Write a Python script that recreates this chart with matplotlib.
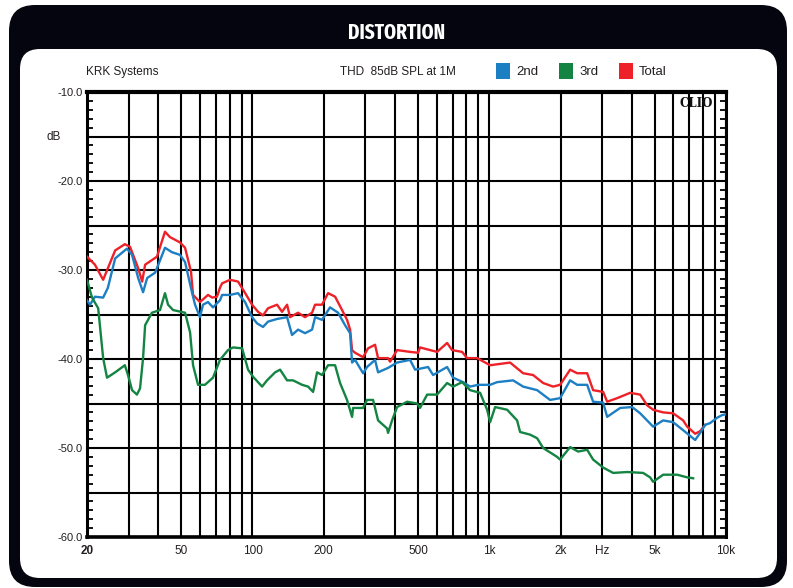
import numpy as np
import matplotlib
matplotlib.use("Agg")
import matplotlib.pyplot as plt
from matplotlib.patches import FancyBboxPatch, Rectangle
from matplotlib.ticker import FixedLocator, MultipleLocator, FuncFormatter
from matplotlib import font_manager

# --- data (Hz, dB) ---
freq_total = [20, 21.6, 23.4, 26.3, 28.9, 30.4, 32.9, 34.2, 35.2, 39.5, 42.7, 44.8, 49.4, 51.9,
              55.0, 56.1, 60.0, 64.9, 67.5, 70.8, 72.9, 74.4, 80.4, 86.9, 91.2, 99.6, 105.6,
              110.8, 116.3, 127, 133.3, 140, 144.1, 155.8, 166.7, 178.5, 183.8, 196.7, 208.6,
              223.3, 239.0, 250.8, 258.4, 263.4, 271.2, 293.2, 307.8, 329.4, 339.2, 373.8, 381.1,
              408, 463, 500.5, 510.3, 562.6, 602.2, 663.8, 696.7, 768, 806.3, 888.8, 1008.6,
              1225, 1390, 1532, 1689, 1861, 1992, 2196, 2351, 2592, 2746, 3028, 3148, 3469,
              3937, 4339, 4644, 4922, 5426, 5980, 6592, 6854, 7410, 7778, 8166]
db_total = [-28.5, -29.4, -31.1, -27.8, -27.1, -27.4, -29.8, -31.3, -29.4, -28.5, -25.7, -26.3, -26.9, -27.5,
            -30.2, -32.8, -33.6, -32.8, -33.1, -33.0, -32.0, -31.5, -31.1, -31.3, -32.2, -33.9, -34.7,
            -35.1, -34.3, -33.9, -34.7, -33.9, -35.3, -34.8, -35.3, -34.8, -33.9, -33.9, -32.6,
            -33.0, -34.5, -35.6, -36.7, -39.0, -39.3, -39.8, -38.8, -38.4, -39.9, -39.9, -40.3,
            -39.0, -39.2, -39.3, -38.7, -39.0, -39.2, -38.2, -39.0, -39.2, -39.9, -39.9, -40.7,
            -40.4, -41.6, -41.8, -42.7, -43.1, -42.9, -41.2, -41.6, -41.6, -43.5, -43.7, -44.8, -44.4,
            -43.8, -44.0, -45.2, -45.7, -46.0, -46.1, -46.9, -47.6, -48.4, -48.1, -47.4]

freq_2nd = [20, 20.6, 21.6, 23.4, 24.5, 26.3, 29.5, 31.0, 32.9, 34.5, 35.9, 38.8, 42.7, 45.7,
            49.4, 51.9, 55.5, 57.2, 60.0, 61.8, 64.9, 68.1, 72.9, 74.4, 80.4, 86.9, 93.0, 99.6,
            104.6, 110.8, 116.3, 127, 140, 146.9, 155.8, 166.7, 178.5, 183.8, 196.7, 212.6,
            229.9, 246, 258.4, 263.4, 271.2, 293.2, 304.7, 329.4, 339.2, 373.8, 408, 463, 486.2,
            551.6, 579.3, 663.8, 703.6, 775.4, 830.2, 897.5, 1008.6, 1079.8, 1261, 1390, 1593,
            1807, 1992, 2196, 2351, 2592, 2746, 3028, 3148, 3572, 4013, 4339, 4922, 5426, 5980,
            6592, 7410, 7778, 8166, 8571, 9176, 9632, 10000]
db_2nd = [-33.4, -33.9, -33.0, -33.1, -32.0, -28.7, -27.6, -28.3, -30.9, -32.5, -30.9, -30.3, -27.5, -28.0,
          -28.3, -29.1, -32.5, -33.9, -35.3, -33.9, -33.6, -34.2, -33.4, -32.8, -32.8, -32.6, -33.6, -35.3,
          -36.0, -36.4, -35.8, -35.5, -35.3, -37.3, -36.7, -37.1, -36.7, -35.3, -35.6, -34.2,
          -34.8, -36.2, -37.1, -40.4, -40.1, -41.6, -40.9, -40.1, -41.5, -41.0, -40.4, -40.1, -41.2,
          -40.9, -41.8, -40.9, -42.1, -42.6, -43.1, -42.9, -42.9, -42.6, -42.4, -43.1, -43.5,
          -44.6, -44.4, -42.4, -42.9, -42.9, -44.8, -44.9, -46.5, -45.5, -45.4, -46.1, -47.6, -46.9, -47.1,
          -48.0, -49.1, -48.3, -47.4, -47.2, -46.6, -46.3, -46.2]

freq_3rd = [20, 21.0, 22.3, 23.4, 24.3, 26.3, 28.9, 29.8, 31.0, 32.5, 33.5, 34.5, 35.2, 37.6,
            40.7, 42.7, 44.0, 46.2, 51.9, 54.5, 56.1, 58.9, 63.0, 68.1, 72.9, 78.8, 82.8, 90.4,
            95.8, 100.6, 109.8, 115.2, 124.6, 130.8, 140, 148.4, 162, 171.7, 180.3, 187.4, 196.7,
            208.6, 223.3, 234.4, 250.8, 263.4, 266, 293.2, 304.7, 323.2, 339.2, 370.2, 373.8,
            388.7, 408, 449.8, 495.8, 510.3, 546.5, 602.2, 663.8, 703.6, 768, 830.2, 915, 979.6,
            1008.6, 1058.8, 1189.8, 1311, 1350, 1488, 1593, 1689, 1935, 1992, 2196, 2374, 2592,
            2746, 3028, 3337, 3824, 4467, 4781, 4922, 5426, 5640, 6218, 6854, 7266]
db_3rd = [-31.1, -33.1, -34.3, -39.9, -42.1, -41.5, -40.7, -41.8, -43.5, -44.0, -43.3, -39.9, -36.2, -34.8,
          -34.5, -32.6, -33.9, -34.5, -34.8, -37.0, -40.7, -42.9, -42.9, -42.1, -40.1, -39.0, -38.7, -38.8,
          -41.2, -42.0, -43.1, -42.4, -41.5, -41.2, -42.4, -42.4, -42.9, -43.1, -43.7, -41.5, -41.8,
          -40.7, -40.7, -42.7, -44.6, -46.5, -45.5, -45.5, -44.6, -44.6, -46.9, -47.8, -48.3,
          -46.9, -45.4, -44.8, -45.0, -45.5, -44.0, -44.0, -42.7, -43.1, -42.6, -43.5, -43.8, -45.7,
          -47.1, -45.4, -45.7, -46.9, -48.2, -48.5, -48.9, -50.0, -51.0, -51.3, -49.9, -50.4, -50.2,
          -51.3, -52.2, -52.8, -52.7, -52.8, -53.3, -53.8, -53.0, -53.0, -53.0, -53.3, -53.4]

xtick_vals = [20, 50, 100, 200, 500, 1000, 2000, 3000, 5000, 10000]
xtick_labels = ["20", "50", "100", "200", "500", "1k", "2k", "Hz", "5k", "10k"]
xgrid_minor = [30, 40, 60, 70, 80, 90, 300, 400, 600, 700, 800, 900, 4000, 6000, 7000, 8000, 9000]
series_names = ["2nd", "3rd", "Total"]

c_2nd = "#1c7fc4"
c_3rd = "#138442"
c_total = "#ee2129"

# --- fonts ---
plt.rcParams["font.family"] = ["Liberation Sans", "DejaVu Sans"]


def pick_condensed_bold():
    # look for a narrow / condensed bold face for the banner title
    best, best_score = None, -1
    rank = {"ultra-condensed": 5, "extra-condensed": 4, "condensed": 3, "semi-condensed": 2}
    for f in font_manager.fontManager.ttflist:
        name = f.name.lower()
        path = f.fname.lower()
        w = f.weight if isinstance(f.weight, int) else 400
        if w < 600 and "bold" not in path:
            continue
        if "italic" in path or f.style != "normal":
            continue
        score = rank.get(f.stretch, 0)
        if "extracondensed" in path.replace("-", "").replace("_", ""):
            score = max(score, 4)
        elif "semicondensed" in path.replace("-", "").replace("_", ""):
            score = max(score, 2)
        elif "condensed" in path or "condensed" in name or "narrow" in path or "narrow" in name:
            score = max(score, 3)
        if "black" in path or "extrabold" in path:
            score -= 0.5
        if score > best_score and score > 0:
            best, best_score = f.fname, score
    return best


title_file = pick_condensed_bold()
if title_file:
    title_font = font_manager.FontProperties(fname=title_file, size=15)
else:
    title_font = font_manager.FontProperties(family="Liberation Sans", weight="bold", size=13)

W, H = 793, 588
fig = plt.figure(figsize=(W / 100, H / 100), dpi=100)

# background frame drawn in pixel units
bg = fig.add_axes([0, 0, 1, 1])
bg.set_xlim(0, W)
bg.set_ylim(H, 0)
bg.axis("off")
bg.add_patch(FancyBboxPatch((9, 5), 778, 582, boxstyle="round,pad=0,rounding_size=26",
                            fc="#05050f", ec="none"))
bg.add_patch(FancyBboxPatch((20, 49), 757, 529, boxstyle="round,pad=0,rounding_size=20",
                            fc="white", ec="none"))
bg.text(397, 33, "DISTORTION", color="white", ha="center", va="center", fontproperties=title_font)

txt_col = "#231f20"
bg.text(86, 72, "KRK Systems", ha="left", va="center", fontsize=8.5, color=txt_col)
bg.text(340, 72, "THD  85dB SPL at 1M", ha="left", va="center", fontsize=8.5, color=txt_col)
leg_x = [496, 559, 619]
for name, col, lx in zip(series_names, [c_2nd, c_3rd, c_total], leg_x):
    bg.add_patch(Rectangle((lx, 63), 14, 16, fc=col, ec="none"))
    bg.text(lx + 20, 72, name, ha="left", va="center", fontsize=9.5, color=txt_col)
bg.text(54, 137, "dB", ha="center", va="center", fontsize=8.5, color=txt_col)

# --- main plot ---
ax = fig.add_axes([87 / W, 1 - 537 / H, 639 / W, 445 / H])
ax.set_xscale("log")
ax.set_xlim(20, 10000)
ax.set_ylim(-60, -10)

ax.plot(freq_total, db_total, color=c_total, lw=1.7, zorder=3)
ax.plot(freq_2nd, db_2nd, color=c_2nd, lw=1.7, zorder=4)
ax.plot(freq_3rd, db_3rd, color=c_3rd, lw=1.7, zorder=5)

ax.xaxis.set_major_locator(FixedLocator(xtick_vals))
ax.xaxis.set_minor_locator(FixedLocator(xgrid_minor))
ax.set_xticklabels(xtick_labels)
ax.xaxis.set_minor_formatter(FuncFormatter(lambda v, p: ""))
ax.get_xticklabels()[0].set_fontweight("bold")
ax.tick_params(axis="x", which="both", length=0, labelsize=8.5, pad=6, labelcolor=txt_col)

ax.yaxis.set_major_locator(MultipleLocator(5))
ax.yaxis.set_minor_locator(MultipleLocator(1))
ax.yaxis.set_major_formatter(FuncFormatter(
    lambda v, p: f"{v:.1f}" if int(round(abs(v))) % 10 == 0 else ""))
ax.tick_params(axis="y", which="both", direction="in", left=True, right=True,
               labelsize=8, pad=3, labelcolor=txt_col, width=1.3)
ax.tick_params(axis="y", which="major", length=5)
ax.tick_params(axis="y", which="minor", length=4)

ax.grid(axis="x", which="both", color="black", lw=1.5)
ax.grid(axis="y", which="major", color="black", lw=1.5)
ax.set_axisbelow(True)
for side, sp in ax.spines.items():
    sp.set_linewidth(2.2)
    sp.set_color("black")
ax.spines["top"].set_linewidth(3)
ax.spines["bottom"].set_linewidth(2.6)

ax.text(0.98, 0.988, "CLIO", transform=ax.transAxes, ha="right", va="top",
        family="DejaVu Serif", fontweight="bold", fontsize=8.5, color="#111111")

fig.savefig("out.png", dpi=100)
